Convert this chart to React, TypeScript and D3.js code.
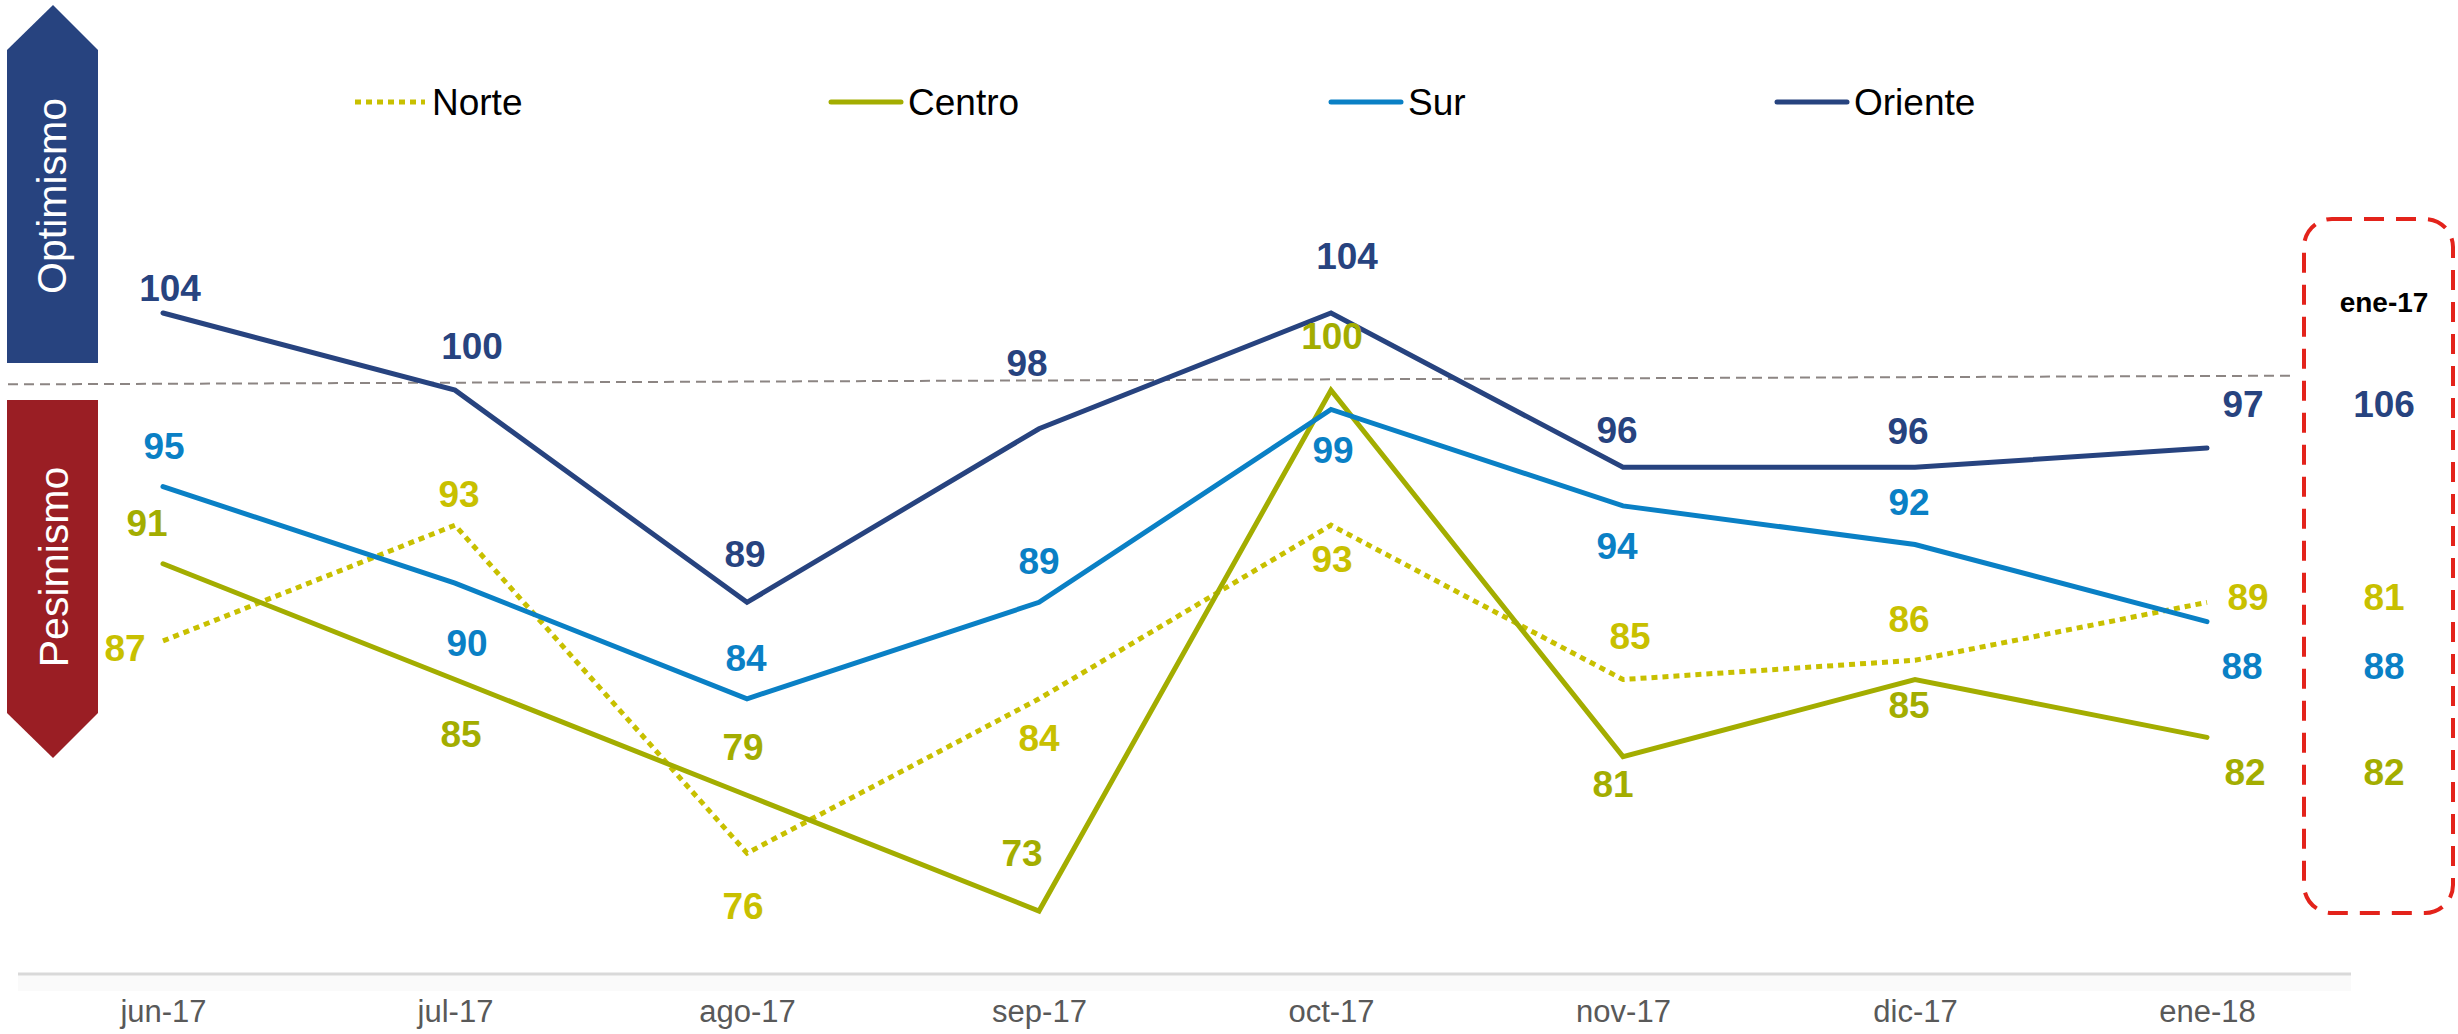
import React, { useEffect, useRef } from "react";
import * as d3 from "d3";

// months on the x axis
const months = ["jun-17", "jul-17", "ago-17", "sep-17", "oct-17", "nov-17", "dic-17", "ene-18"];
const seriesNames = ["Norte", "Centro", "Sur", "Oriente"];

const norte = [87, 93, 76, 84, 93, 85, 86, 89];
const centro = [91, 85, 79, 73, 100, 81, 85, 82];
const sur = [95, 90, 84, 89, 99, 94, 92, 88];
const oriente = [104, 100, 89, 98, 104, 96, 96, 97];

// ene-17 values shown in the box on the right (same order as seriesNames)
const prevLabel = "ene-17";
const prevValues = [81, 82, 88, 106];

// optimism / pessimism threshold (slightly tilted in the original)
const threshold = [100.3, 100.75];

const colors = {
  Norte: "#c8c000",
  Centro: "#a3ad00",
  Sur: "#0a80c5",
  Oriente: "#27437f",
};

// label offsets [dx, dy] from each point, by hand to avoid overlaps
const labelOffsets = {
  Norte: [[-38, 7], [4, -31], [-4, 53], [0, 39], [1, 34], [7, -44], [-6, -41], [41, -5]],
  Centro: [[-16, -41], [6, 54], [-4, -48], [-17, -58], [1, -54], [-10, 27], [-6, 25], [38, 35]],
  Sur: [[1, -41], [12, 60], [-1, -41], [0, -41], [2, 41], [-6, 40], [-6, -42], [35, 44]],
  Oriente: [[7, -25], [17, -44], [-2, -48], [-12, -66], [16, -57], [-6, -37], [-7, -36], [36, -44]],
};

const legendX = [355, 831, 1331, 1777];

const FONT = "'Liberation Sans', Arial, sans-serif";

const App = () => {
  const svgRef = useRef(null);

  useEffect(() => {
    const width = 2458;
    const height = 1034;
    const values = { Norte: norte, Centro: centro, Sur: sur, Oriente: oriente };

    const svg = d3.select(svgRef.current);
    svg.selectAll("*").remove();
    svg.attr("width", width).attr("height", height).style("font-family", FONT);

    svg.append("rect").attr("width", width).attr("height", height).attr("fill", "white");

    const x = d3.scalePoint().domain(months).range([163, 2207]);
    const y = d3.scaleLinear().domain([73, 104]).range([911, 313]);

    // x axis
    svg
      .append("rect")
      .attr("x", 18)
      .attr("y", 975)
      .attr("width", 2333)
      .attr("height", 16)
      .attr("fill", "#fafafa");

    const xAxis = svg
      .append("g")
      .attr("transform", "translate(0,974)")
      .call(d3.axisBottom(x).tickSize(0).tickPadding(26));
    xAxis.select(".domain").attr("d", "M18,0H2351").attr("stroke", "#d9d9d9").attr("stroke-width", 3);
    xAxis
      .selectAll(".tick text")
      .attr("fill", "#595959")
      .style("font-size", "31px")
      .style("font-family", FONT);

    // threshold line
    svg
      .append("line")
      .attr("x1", 8)
      .attr("x2", 2292)
      .attr("y1", y(threshold[0]))
      .attr("y2", y(threshold[1]))
      .attr("stroke", "#8c8583")
      .attr("stroke-width", 2)
      .attr("stroke-dasharray", "10,6");

    // arrows
    svg
      .append("path")
      .attr("d", "M7,363V50L53,5L98,50V363Z")
      .attr("fill", "#27437f");
    svg
      .append("path")
      .attr("d", "M7,400H98V713L53,758L7,713Z")
      .attr("fill", "#9a1e24");
    svg
      .append("text")
      .attr("transform", "translate(66,196) rotate(-90)")
      .attr("text-anchor", "middle")
      .attr("fill", "white")
      .style("font-size", "41px")
      .text("Optimismo");
    svg
      .append("text")
      .attr("transform", "translate(68,567) rotate(-90)")
      .attr("text-anchor", "middle")
      .attr("fill", "white")
      .style("font-size", "41px")
      .text("Pesimismo");

    const line = d3
      .line()
      .x((d, i) => x(months[i]))
      .y((d) => y(d));

    seriesNames.forEach((name) => {
      svg
        .append("path")
        .datum(values[name])
        .attr("fill", "none")
        .attr("stroke", colors[name])
        .attr("stroke-width", 5)
        .attr("stroke-linecap", name === "Norte" ? "butt" : "round")
        .attr("stroke-dasharray", name === "Norte" ? "6,5" : null)
        .attr("d", line);
    });

    // data labels
    seriesNames.forEach((name) => {
      svg
        .selectAll(".lbl-" + name)
        .data(values[name])
        .enter()
        .append("text")
        .attr("x", (d, i) => x(months[i]) + labelOffsets[name][i][0])
        .attr("y", (d, i) => y(d) + labelOffsets[name][i][1] + 13)
        .attr("text-anchor", "middle")
        .attr("fill", colors[name])
        .style("font-size", "37px")
        .style("font-weight", "bold")
        .text((d) => d);
    });

    // ene-17 box
    svg
      .append("rect")
      .attr("x", 2304)
      .attr("y", 219)
      .attr("width", 149)
      .attr("height", 694)
      .attr("rx", 28)
      .attr("fill", "none")
      .attr("stroke", "#e3231b")
      .attr("stroke-width", 4)
      .attr("stroke-dasharray", "20,12");
    svg
      .append("text")
      .attr("x", 2384)
      .attr("y", 312)
      .attr("text-anchor", "middle")
      .attr("fill", "black")
      .style("font-size", "28px")
      .style("font-weight", "bold")
      .text(prevLabel);

    const last = months.length - 1;
    seriesNames.forEach((name, k) => {
      svg
        .append("text")
        .attr("x", 2384)
        .attr("y", y(values[name][last]) + labelOffsets[name][last][1] + 13)
        .attr("text-anchor", "middle")
        .attr("fill", colors[name])
        .style("font-size", "37px")
        .style("font-weight", "bold")
        .text(prevValues[k]);
    });

    // legend
    const legend = svg.append("g").attr("transform", "translate(0,102)");
    seriesNames.forEach((name, i) => {
      legend
        .append("line")
        .attr("x1", legendX[i])
        .attr("x2", legendX[i] + 70)
        .attr("stroke", colors[name])
        .attr("stroke-width", 5)
        .attr("stroke-linecap", name === "Norte" ? "butt" : "round")
        .attr("stroke-dasharray", name === "Norte" ? "6,5" : null);
      legend
        .append("text")
        .attr("x", legendX[i] + 77)
        .attr("y", 13)
        .attr("fill", "black")
        .style("font-size", "37px")
        .text(name);
    });
  }, []);

  return (
    <div style={{ position: "absolute", left: 0, top: 0 }}>
      <svg ref={svgRef}></svg>
    </div>
  );
};

export default App;
